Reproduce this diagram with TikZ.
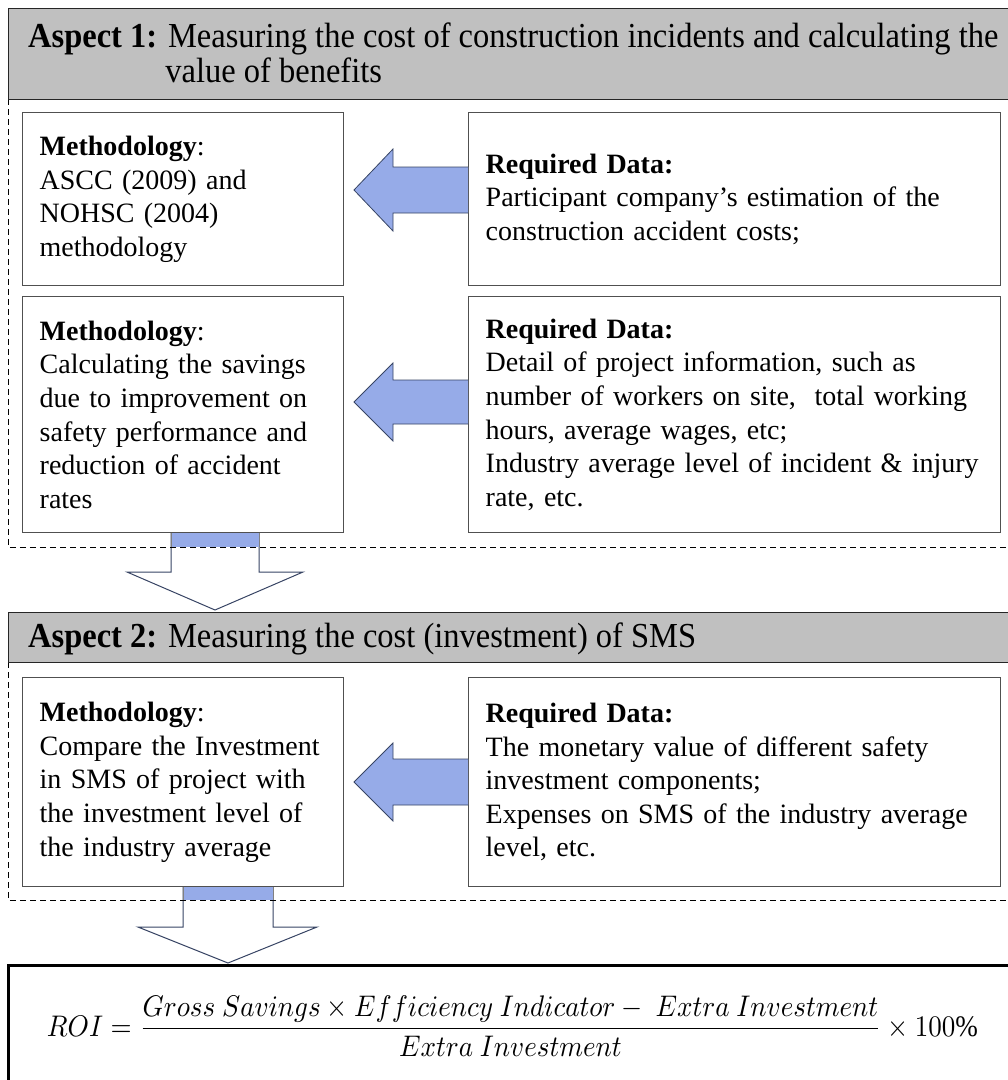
\documentclass[tikz,border=0pt]{standalone}
\usepackage{fontspec}
\usepackage{graphicx}
\setmainfont{Liberation Serif}
\usetikzlibrary{calc}
\definecolor{hdrgray}{RGB}{192,192,192}
\definecolor{arrblue}{RGB}{150,171,232}
\definecolor{arredge}{RGB}{55,68,100}
\definecolor{boxedge}{RGB}{80,80,80}
\begin{document}
\begin{tikzpicture}[x=1pt,y=-1pt,
  hdr/.style={draw=black!85, line width=1.3pt, fill=hdrgray, rectangle, anchor=north west,
    minimum width=1040pt},
  hdrtext/.style={anchor=west, inner sep=0pt, align=left},
  dashbox/.style={draw=black, dash pattern=on 6pt off 4pt, line width=0.9pt},
  infobox/.style={draw=boxedge, line width=1.4pt, fill=white, rectangle, anchor=north west,
    inner xsep=17pt, inner ysep=0pt, align=left, font=\fontsize{28}{33.6}\selectfont},
  mbox/.style={infobox, minimum width=321pt, text width=287pt},
  rbox/.style={infobox, minimum width=532pt, text width=498pt},
  blockarrow/.style={fill=arrblue, draw=arredge, line width=0.8pt, line join=miter},
  downarrow/.style={fill=white, draw=arredge, line width=1pt, line join=miter},
  shaftfill/.style={fill=arrblue, draw=gray, line width=1pt},
  roibox/.style={draw=black, line width=2.5pt, rectangle, anchor=north west, minimum width=1040pt, minimum height=150pt}
]
\useasboundingbox (0,0) rectangle (1008,1080);
\clip (0,0) rectangle (1008,1080);

% down arrows (drawn first, dashed lines cross them)
\draw[downarrow] (171,533) -- (259,533) -- (259,572) -- (303,572) -- (215,610) -- (127,572) -- (171,572) -- cycle;
\draw[shaftfill] (171,547) -- (171,533) -- (259,533) -- (259,547);
\fill[arrblue] (171.5,533) rectangle (258.5,547);
\draw[downarrow] (183,887) -- (273,887) -- (273,927) -- (317,927) -- (228,963) -- (138,927) -- (183,927) -- cycle;
\draw[shaftfill] (183,900) -- (183,887) -- (273,887) -- (273,900);
\fill[arrblue] (183.5,887) rectangle (272.5,900);

% dashed frames
\draw[dashbox] (8,99) rectangle (1030,547);
\draw[dashbox] (8,662) rectangle (1030,900);

% headers
\node[hdr, minimum height=91pt] (h1) at (8,8) {};
\node[hdrtext] (h1t) at ($(h1.west)+(20,4)$)
  {\scalebox{1}[1.08]{\fontsize{32.5}{32.5}\selectfont
   \begin{tabular}{@{}l@{}}\textbf{Aspect 1:} Measuring the cost of construction incidents and calculating the\\[0pt]
   \phantom{\textbf{Aspect 1:}~}value of benefits\end{tabular}}};
\node[hdr, minimum height=50pt] (h2) at (8,612) {};
\node[hdrtext] (h2t) at ($(h2.west)+(20,1)$)
  {\scalebox{1}[1.08]{\fontsize{32.5}{32.5}\selectfont \textbf{Aspect 2:} Measuring the cost (investment) of SMS}};

% boxes
\node[mbox, minimum height=173pt] (m1) at (22,112)
  {\textbf{Methodology}:\\ASCC (2009) and\\NOHSC (2004)\\methodology};
\node[rbox, minimum height=173pt] (r1) at (468,112)
  {\textbf{Required Data:}\\Participant company’s estimation of the\\construction accident costs;};
\node[mbox, minimum height=236pt] (m2) at (22,296)
  {\textbf{Methodology}:\\Calculating the savings\\due to improvement on\\safety performance and\\reduction of accident\\rates};
\node[rbox, minimum height=236pt] (r2) at (468,296)
  {\textbf{Required Data:}\\Detail of project information, such as\\number of workers on site,~ total working\\hours, average wages, etc;\\Industry average level of incident \& injury\\rate, etc.};
\node[mbox, minimum height=209pt] (m3) at (22,677)
  {\textbf{Methodology}:\\Compare the Investment\\in SMS of project with\\the investment level of\\the industry average};
\node[rbox, minimum height=209pt] (r3) at (468,677)
  {\textbf{Required Data:}\\The monetary value of different safety\\investment components;\\Expenses on SMS of the industry average\\level, etc.};

% left block arrows
\draw[blockarrow] (r1.west |- 0,167) -- (393,167) -- (393,149) -- (354,190) -- (393,231) -- (393,213) -- (r1.west |- 0,213);
\draw[blockarrow] (r2.west |- 0,380) -- (393,380) -- (393,363) -- (354,402) -- (393,441) -- (393,424) -- (r2.west |- 0,424);
\draw[blockarrow] (r3.west |- 0,759) -- (393,759) -- (393,743) -- (354,782) -- (393,821) -- (393,805) -- (r3.west |- 0,805);

% ROI box
\node[roibox] (roi) at (7,964) {};
\node (formula) at (512.5,1026)
  {\scalebox{1}[1.1]{\resizebox{931pt}{!}{$\displaystyle ROI=\frac{Gross\ Savings\times Efficiency\ Indicator-\ Extra\ Investment}{Extra\ Investment}\times 100\%$}}};
\end{tikzpicture}
\end{document}
